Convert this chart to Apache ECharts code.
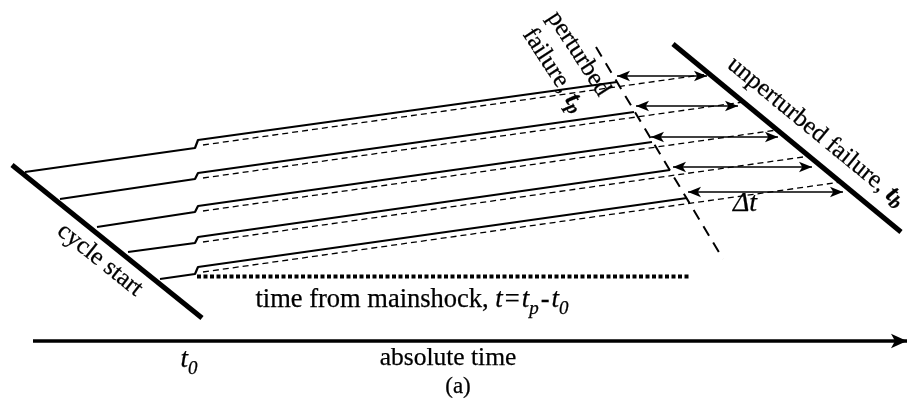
<!DOCTYPE html>
<html><head><meta charset="utf-8">
<script src="https://cdn.jsdelivr.net/npm/echarts@6/dist/echarts.min.js"></script>
<style>html,body{margin:0;padding:0;background:#fff}#c{width:907px;height:400px}</style>
</head><body><div id="c"></div>
<script>
// Diagram coordinates: x = absolute time, y = stacking of seismic cycles (downwards)
const cycleStartLine = [[12, 165], [202, 318]];
const unperturbedLine = [[673, 44], [901, 232]];
const perturbedLine = [[596, 47], [723, 259]];
const cycleSolid = [
  [[25, 172], [195, 148], [198, 140], [617, 82]],
  [[60, 199], [195, 179], [198, 173], [634, 112]],
  [[97, 227], [195, 212], [198, 206], [652, 142]],
  [[128, 252], [195, 243], [198, 237], [670, 170]],
  [[160, 279], [195, 274], [198, 267], [687, 198]]
];
const cycleDashed = [
  [[203, 145], [708, 74]],
  [[203, 178], [743, 102]],
  [[203, 211], [777, 130]],
  [[203, 242], [810, 156]],
  [[203, 272], [841, 182]]
];
const deltaArrows = [
  [[617, 76], [707, 76]],
  [[636, 106], [738, 106]],
  [[651, 137], [778, 137]],
  [[673, 167], [812, 167]],
  [[688, 192], [843, 192]]
];
const mainshockSpan = [[197, 276.5], [691, 276.5]];
const absoluteAxis = [[33, 341], [907, 341]];

const labelTexts = [
  '{c|cycle start}',
  '{u|unperturbed failure, }{ub|t}{ubs|b}',
  '{u|perturbed}\n{u|failure, }{ub|t}{ubs|p}',
  '{di|Δt}',
  '{r|time from mainshock, }{i|t}{op|=}{i|t}{s|p}{op|-}{i|t}{s|0}',
  '{i|t}{s|0}',
  '{ab|absolute time}',
  '{a|(a)}'
];
const labelAnchors = [[100, 260], [816, 132], [566, 62], [745, 204], [412, 300], [189, 360], [448, 358], [458, 387]];
const labelAngles = [-38.6, -39.4, -57, 0, 0, 0, 0, 0];

const F = '"Liberation Serif","Times New Roman",serif';
const T = {color: '#000', textBorderColor: '#000', textBorderWidth: 0.25};
const rich = {
  r: Object.assign({fontFamily: F, fontSize: 26.5, lineHeight: 36, verticalAlign: 'middle'}, T),
  op: Object.assign({fontFamily: F, fontSize: 26.5, lineHeight: 36, verticalAlign: 'middle', padding: [0, 2, 0, 2]}, T),
  i: Object.assign({fontFamily: F, fontSize: 27, fontStyle: 'italic', lineHeight: 36, verticalAlign: 'middle'}, T),
  s: Object.assign({fontFamily: F, fontSize: 19, fontStyle: 'italic', lineHeight: 21, verticalAlign: 'bottom'}, T),
  ab: Object.assign({fontFamily: F, fontSize: 25.5}, T),
  c: Object.assign({fontFamily: F, fontSize: 25}, T),
  u: Object.assign({fontFamily: F, fontSize: 25, lineHeight: 30, verticalAlign: 'middle'}, T),
  ub: Object.assign({fontFamily: F, fontSize: 26, fontStyle: 'italic', fontWeight: 'bold', lineHeight: 30, verticalAlign: 'middle'}, T),
  ubs: Object.assign({fontFamily: F, fontSize: 19, fontStyle: 'italic', fontWeight: 'bold', lineHeight: 18, verticalAlign: 'bottom'}, T),
  di: Object.assign({fontFamily: F, fontSize: 28, fontStyle: 'italic'}, T),
  a: Object.assign({fontFamily: F, fontSize: 23}, T)
};

function lineSeries(data, width, type) {
  return {
    type: 'line', data: data, showSymbol: false, symbol: 'none', silent: true,
    lineStyle: {color: '#000', width: width, type: type || 'solid', cap: 'butt', opacity: 1},
    animation: false, z: 2
  };
}

const series = [];
series.push(lineSeries(cycleStartLine, 5));
series.push(lineSeries(unperturbedLine, 5));
series.push(lineSeries(perturbedLine, 2, [11, 8]));
cycleSolid.forEach(d => series.push(lineSeries(d, 2.2)));
cycleDashed.forEach(d => series.push(lineSeries(d, 1.3, [6, 4])));
series.push(lineSeries(mainshockSpan, 4, [4, 2.5]));
series.push({
  type: 'line', data: [], silent: true, animation: false,
  markLine: {
    silent: true, animation: false, symbol: ['arrow', 'arrow'], symbolSize: [8, 13],
    label: {show: false},
    lineStyle: {color: '#000', width: 1.5, type: 'solid', opacity: 1},
    itemStyle: {color: '#000'},
    emphasis: {disabled: true},
    data: deltaArrows.map(a => [{coord: a[0]}, {coord: a[1]}])
  }
});
series.push({
  type: 'line', data: [], silent: true, animation: false,
  markLine: {
    silent: true, animation: false, symbol: ['none', 'arrow'], symbolSize: [11, 16],
    label: {show: false},
    lineStyle: {color: '#000', width: 3.5, type: 'solid', opacity: 1},
    itemStyle: {color: '#000'},
    emphasis: {disabled: true},
    data: [[{coord: absoluteAxis[0]}, {coord: absoluteAxis[1]}]]
  }
});
series.push({
  type: 'scatter', symbolSize: 0, silent: true, animation: false, z: 5,
  itemStyle: {opacity: 1},
  data: labelAnchors.map((p, k) => ({
    value: p,
    label: {
      show: true, position: 'inside', rotate: labelAngles[k], opacity: 1,
      formatter: labelTexts[k], rich: rich, align: 'center', verticalAlign: 'middle'
    }
  }))
});

const chart = echarts.init(document.getElementById('c'), null, {renderer: 'canvas'});
chart.setOption({
  backgroundColor: '#fff',
  animation: false,
  grid: {left: 0, right: 0, top: 0, bottom: 0},
  xAxis: {type: 'value', min: 0, max: 907, show: false},
  yAxis: {type: 'value', min: 0, max: 400, inverse: true, show: false},
  series: series
});
</script></body></html>
